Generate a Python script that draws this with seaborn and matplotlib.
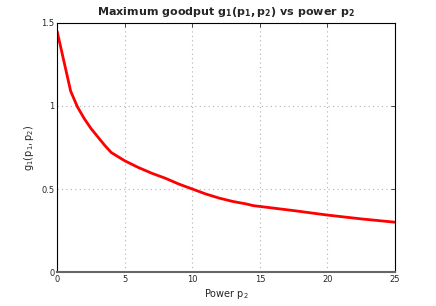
import matplotlib
matplotlib.use("Agg")
import matplotlib.pyplot as plt
import pandas as pd
import seaborn as sns

# values
power_p2 = [0, 0.5, 1, 1.5, 2, 2.5, 3, 3.5, 4, 5, 6, 7, 8, 9, 10, 11, 12,
            13, 14, 14.5, 16, 17.5, 20, 22.5, 25]
goodput_g1 = [1.45, 1.27, 1.09, 0.995, 0.925, 0.865, 0.815, 0.765, 0.72,
              0.67, 0.63, 0.595, 0.565, 0.53, 0.50, 0.47, 0.445, 0.425,
              0.41, 0.40, 0.385, 0.37, 0.343, 0.32, 0.30]
x_ticks = [0, 5, 10, 15, 20, 25]
y_ticks = [0, 0.5, 1, 1.5]
y_tick_labels = ["0", "0.5", "1", "1.5"]

sns.set_style("white")
plt.rcParams["font.family"] = ["DejaVu Sans"]
plt.rcParams["mathtext.default"] = "regular"

df = pd.DataFrame({"p2": power_p2, "g1": goodput_g1})

fig = plt.figure(figsize=(4.36, 3.06), dpi=100)
ax = fig.add_axes([0.131, 0.111, 0.775, 0.814])
sns.lineplot(data=df, x="p2", y="g1", color="red", linewidth=2, ax=ax)

ax.set_xlim(0, 25)
ax.set_ylim(0, 1.5)
ax.set_xticks(x_ticks)
ax.set_yticks(y_ticks)
ax.set_yticklabels(y_tick_labels)
ax.tick_params(direction="in", length=3, labelsize=6, width=0.6, pad=2,
               top=True, right=True)
ax.grid(True, linestyle=(0, (1, 3)), color="#b0b0b0", linewidth=0.8)
for side in ax.spines.values():
    side.set_color("black")
    side.set_linewidth(0.8)
ax.spines["bottom"].set_color("#666666")
ax.spines["bottom"].set_linewidth(1.5)

ax.set_xlabel("Power $p_2$", fontsize=7, labelpad=2)
ax.set_ylabel("$g_1(p_1,p_2)$", fontsize=7, labelpad=4)
ax.set_title(r"Maximum goodput $\mathbf{g_1(p_1,p_2)}$ vs power $\mathbf{p_2}$",
             fontsize=8, fontweight="bold", pad=6)

fig.savefig("out.png", dpi=100)
